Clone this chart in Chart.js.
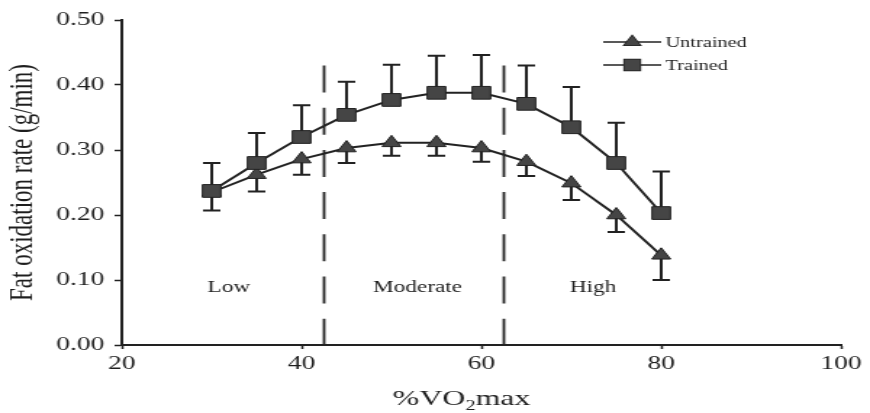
<!DOCTYPE html>
<html>
<head>
<meta charset="utf-8">
<script src="https://cdn.jsdelivr.net/npm/chart.js@4.4.1/dist/chart.umd.min.js"></script>
<style>
  html, body { margin: 0; padding: 0; background: #fff; }
</style>
</head>
<body>
<!-- drawn 600 wide then stretched to 870, like the scanned figure -->
<canvas id="chart" width="600" height="413" style="width:870px;height:413px;display:block"></canvas>
<script>
const intensity = [30, 35, 40, 45, 50, 55, 60, 65, 70, 75, 80];
const untrained = [0.235, 0.262, 0.286, 0.303, 0.311, 0.311, 0.303, 0.282, 0.249, 0.200, 0.138];
const untrainedErr = [0.028, 0.026, 0.024, 0.023, 0.020, 0.020, 0.021, 0.022, 0.026, 0.026, 0.038];
const trained = [0.237, 0.280, 0.320, 0.354, 0.377, 0.388, 0.388, 0.371, 0.335, 0.280, 0.203];
const trainedErr = [0.043, 0.046, 0.049, 0.051, 0.054, 0.057, 0.058, 0.059, 0.062, 0.062, 0.064];
const yTicks = [0, 0.1, 0.2, 0.3, 0.4, 0.5];
const xTicks = [20, 40, 60, 80, 100];
const zoneBounds = [42.5, 62.5];
const zoneTop = 0.43;
const zoneNames = ['Low', 'Moderate', 'High'];
const zoneLabelX = [31.9, 52.9, 72.4];
const zoneLabelY = 0.088;

const ink = '#222';
const fill = '#454545';
const text = '#1e1e1e';
const serif = "'Liberation Serif', 'DejaVu Serif', serif";

function toPoints(vals) {
  return vals.map((v, i) => ({ x: intensity[i], y: v }));
}

// error bars, zone lines, zone names, legend and x title
const overlay = {
  id: 'overlay',
  beforeDatasetsDraw(chart) {
    const { ctx, scales: { x, y } } = chart;
    ctx.save();
    ctx.strokeStyle = ink;
    ctx.lineWidth = 1.8;
    ctx.setLineDash([27, 15.2]);
    zoneBounds.forEach(b => {
      const px = x.getPixelForValue(b);
      ctx.beginPath();
      ctx.moveTo(px, y.getPixelForValue(zoneTop));
      ctx.lineTo(px, y.getPixelForValue(0));
      ctx.stroke();
    });
    ctx.setLineDash([]);

    ctx.fillStyle = text;
    ctx.font = '16px ' + serif;
    ctx.textAlign = 'center';
    ctx.textBaseline = 'middle';
    zoneNames.forEach((n, i) => {
      ctx.fillText(n, x.getPixelForValue(zoneLabelX[i]), y.getPixelForValue(zoneLabelY));
    });

    chart.data.datasets.forEach(ds => {
      ctx.lineWidth = 2;
      ds.data.forEach((p, i) => {
        const px = x.getPixelForValue(p.x);
        const py0 = y.getPixelForValue(p.y);
        const py1 = y.getPixelForValue(p.y + ds.errDir * ds.errors[i]);
        ctx.beginPath();
        ctx.moveTo(px, py0);
        ctx.lineTo(px, py1);
        ctx.moveTo(px - 6, py1);
        ctx.lineTo(px + 6, py1);
        ctx.stroke();
      });
    });
    ctx.restore();
  },
  afterDraw(chart) {
    const { ctx, scales: { x } } = chart;
    ctx.save();
    // legend
    chart.data.datasets.forEach((ds, i) => {
      const cy = 42 + i * 23;
      ctx.strokeStyle = ink;
      ctx.lineWidth = 1.5;
      ctx.beginPath();
      ctx.moveTo(416, cy);
      ctx.lineTo(456, cy);
      ctx.stroke();
      ctx.fillStyle = fill;
      Chart.helpers.drawPoint(ctx, {
        pointStyle: ds.pointStyle, radius: ds.pointRadius * 0.85, borderWidth: 1, rotation: 0
      }, 436, cy);
      ctx.fill();
      ctx.fillStyle = text;
      ctx.font = '14px ' + serif;
      ctx.textAlign = 'left';
      ctx.textBaseline = 'middle';
      ctx.fillText(ds.label, 459, cy + 1);
    });

    // x title with subscript
    const parts = [['%VO', 22, 0], ['2', 14, 5], ['max', 22, 0]];
    let w = 0;
    parts.forEach(p => { ctx.font = p[1] + 'px ' + serif; w += ctx.measureText(p[0]).width; });
    let cx = x.getPixelForValue(57.8) - w / 2;
    ctx.fillStyle = text;
    ctx.textAlign = 'left';
    ctx.textBaseline = 'alphabetic';
    parts.forEach(p => {
      ctx.font = p[1] + 'px ' + serif;
      ctx.fillText(p[0], cx, 405 + p[2]);
      cx += ctx.measureText(p[0]).width;
    });
    ctx.restore();
  }
};

new Chart(document.getElementById('chart'), {
  type: 'line',
  data: {
    datasets: [
      {
        label: 'Untrained',
        data: toPoints(untrained),
        errors: untrainedErr,
        errDir: -1,
        order: 1,
        borderColor: ink,
        borderWidth: 2,
        pointStyle: 'triangle',
        pointRadius: 7.5,
        pointBackgroundColor: fill,
        pointBorderColor: ink,
        pointBorderWidth: 1,
        tension: 0
      },
      {
        label: 'Trained',
        data: toPoints(trained),
        errors: trainedErr,
        errDir: 1,
        order: 0,
        borderColor: ink,
        borderWidth: 2,
        pointStyle: 'rect',
        pointRadius: 9,
        pointBackgroundColor: fill,
        pointBorderColor: ink,
        pointBorderWidth: 1,
        tension: 0
      }
    ]
  },
  options: {
    responsive: false,
    animation: false,
    devicePixelRatio: 1,
    layout: { padding: { top: 20, right: 20, left: 0, bottom: 0 } },
    plugins: { legend: { display: false }, tooltip: { enabled: false } },
    scales: {
      x: {
        type: 'linear',
        min: 20,
        max: 100,
        afterBuildTicks: s => { s.ticks = xTicks.map(v => ({ value: v })); },
        afterFit: s => { s.height = 68; },
        border: { color: ink, width: 2 },
        grid: { drawOnChartArea: false, tickLength: 4, tickColor: ink, tickWidth: 1.5 },
        ticks: { color: text, font: { family: serif, size: 19 }, padding: 4, maxRotation: 0 },
        title: { display: false }
      },
      y: {
        min: 0,
        max: 0.5,
        afterBuildTicks: s => { s.ticks = yTicks.map(v => ({ value: v })); },
        afterFit: s => { s.width = 84; },
        border: { color: ink, width: 2 },
        grid: { drawOnChartArea: false, tickLength: 5, tickColor: ink, tickWidth: 1.5 },
        ticks: {
          color: text,
          font: { family: serif, size: 19 },
          padding: 7,
          callback: v => v.toFixed(2)
        },
        title: {
          display: true,
          text: 'Fat oxidation rate (g/min)',
          color: text,
          font: { family: serif, size: 23 },
          padding: { top: 2, bottom: 0 }
        }
      }
    }
  },
  plugins: [overlay]
});
</script>
</body>
</html>
